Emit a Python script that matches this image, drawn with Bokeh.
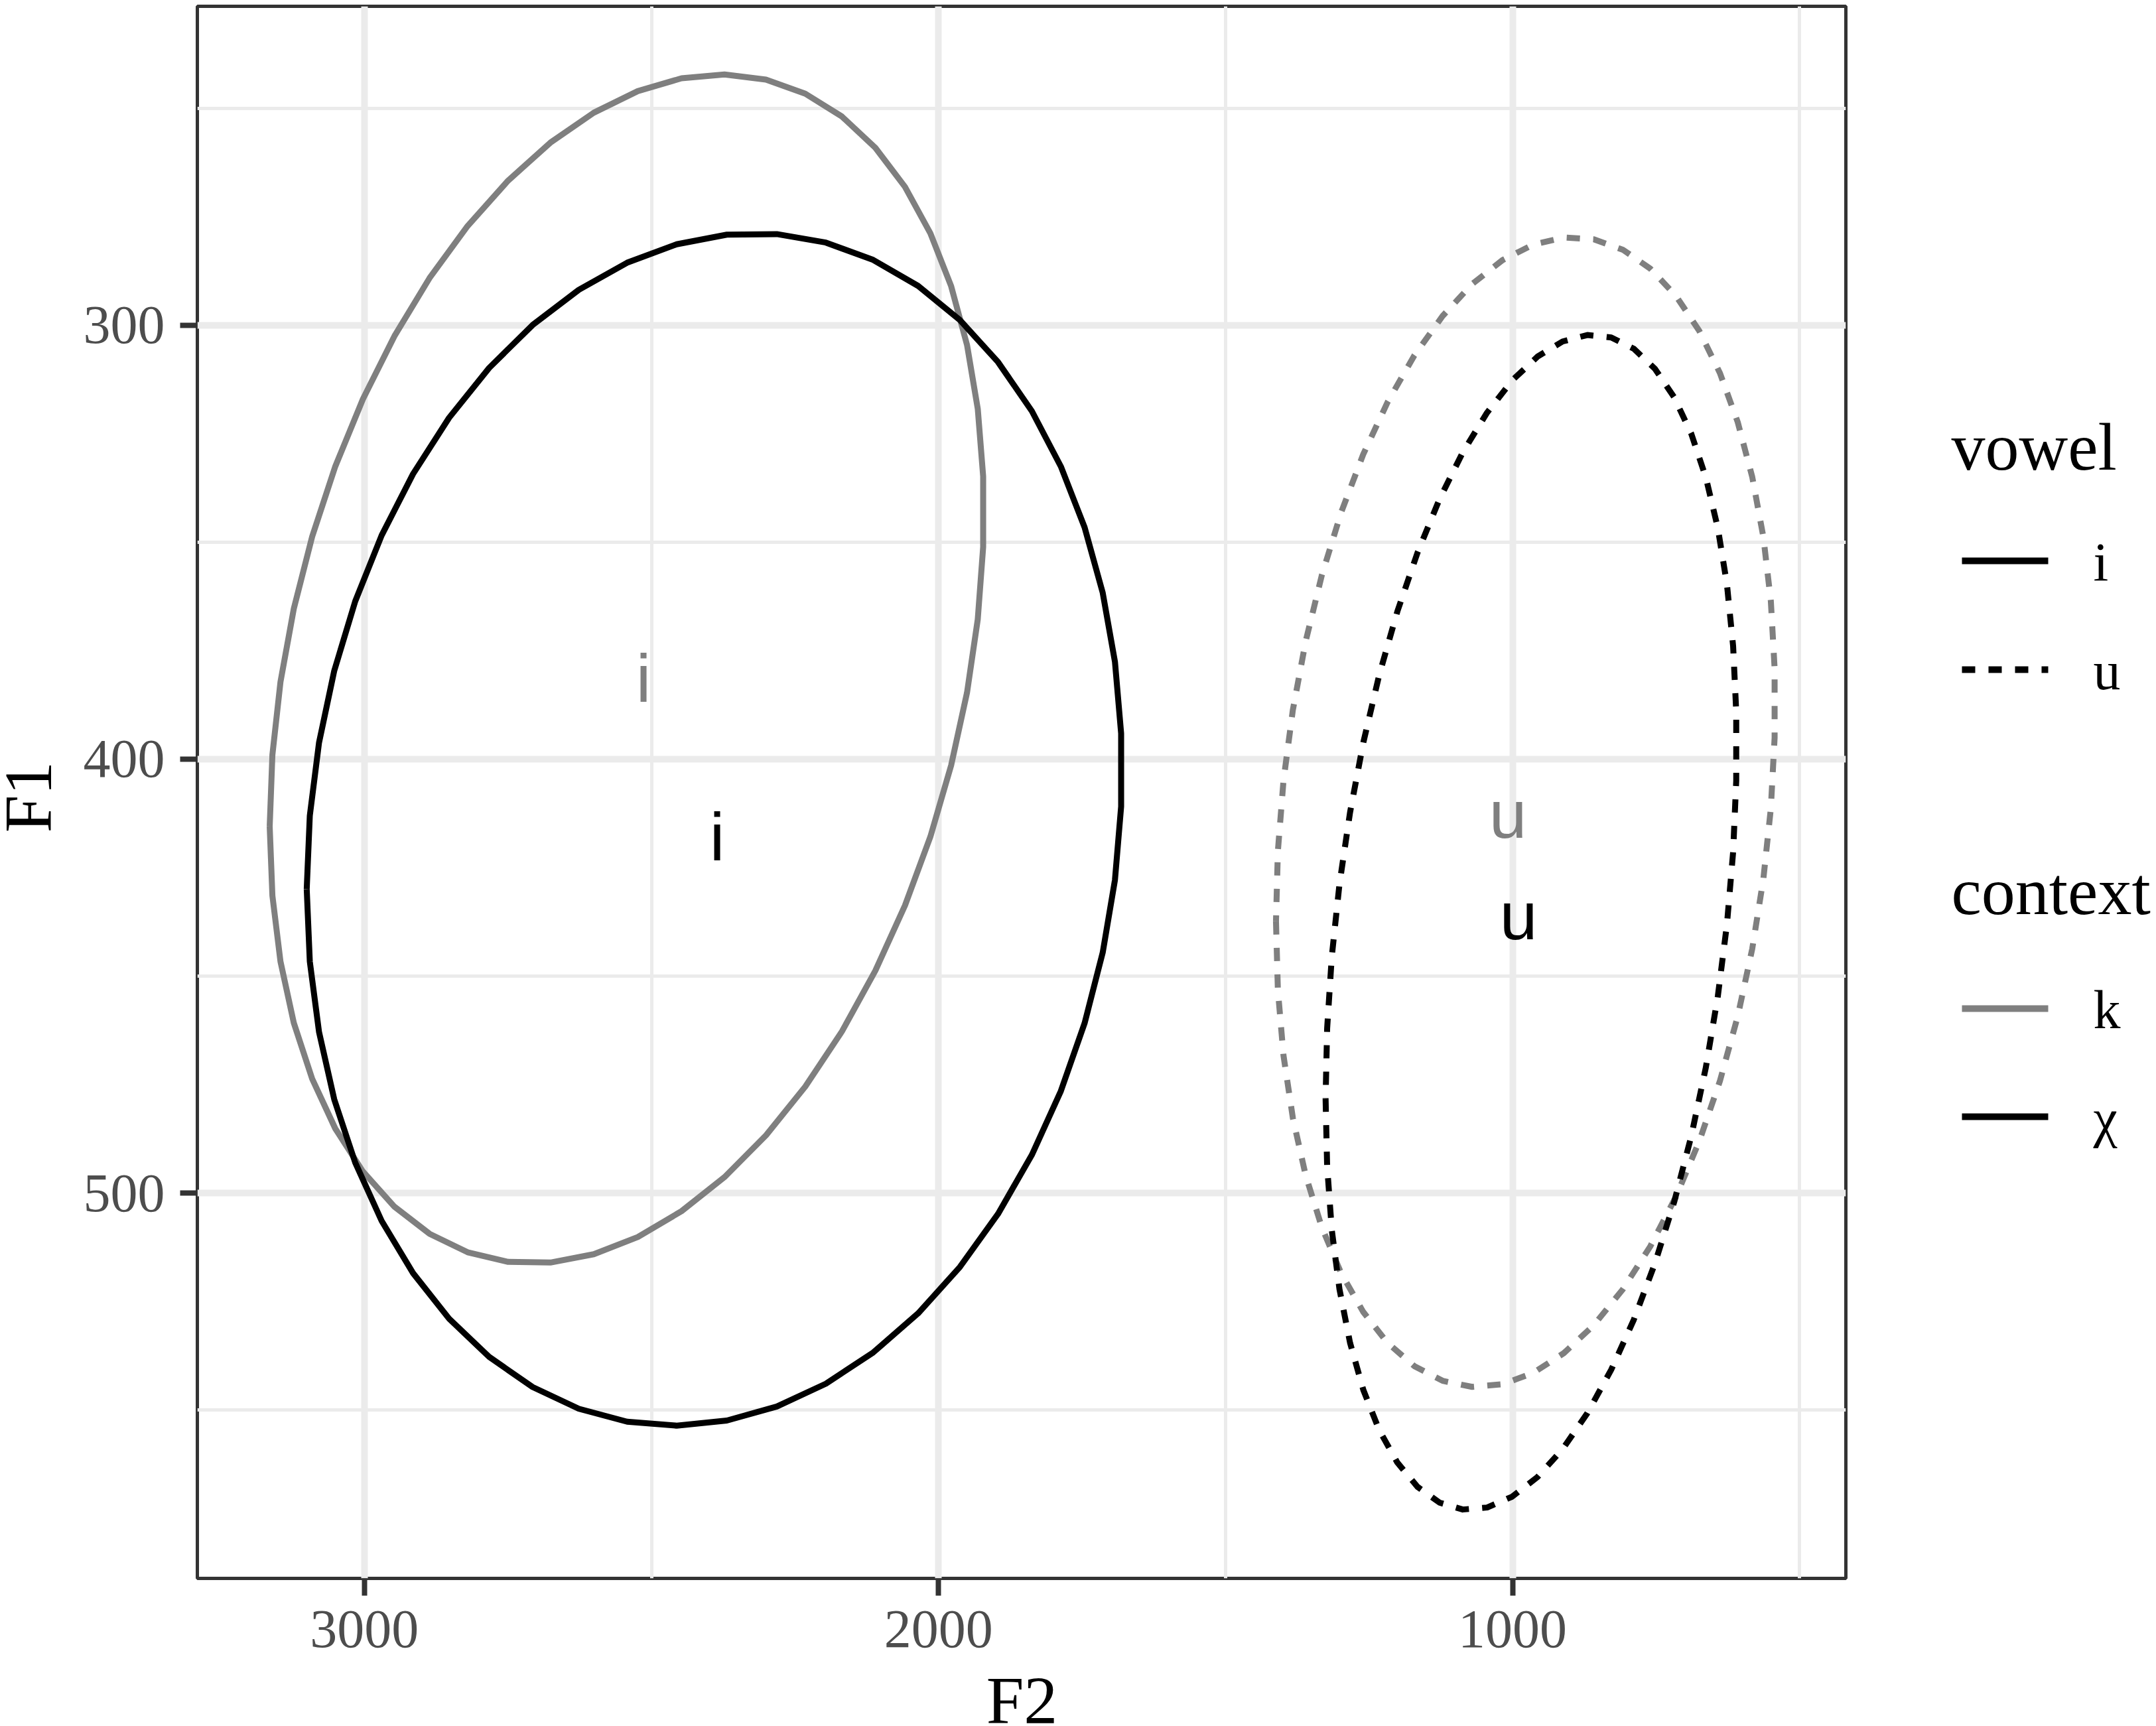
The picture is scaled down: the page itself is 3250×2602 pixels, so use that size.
import numpy as np
from bokeh.plotting import figure
from bokeh.models import Range1d, FixedTicker, ColumnDataSource
from bokeh.layouts import row, column
from bokeh.core.properties import value
from bokeh.embed import file_html
from bokeh.resources import INLINE

# ---- data ----
groups      = ["k-i", "χ-i", "k-u", "χ-u"]
vowel       = ["i", "i", "u", "u"]
context     = ["k", "χ", "k", "χ"]
# ellipse parameters (centre, half-extent in F2 and F1, correlation)
ell_f2      = [2543.0, 2390.5, 977.4, 967.7]
ell_f1      = [379.2, 416.2, 412.2, 437.6]
ell_rf2     = [622.0, 710.0, 434.7, 358.0]
ell_rf1     = [137.0, 137.4, 132.5, 135.4]
ell_rho     = [0.265, 0.10, 0.19, 0.30]
# mean positions of the vowel labels
lab_f2      = [2513.9, 2385.5, 1007.9, 989.5]
lab_f1      = [381.4, 417.9, 412.7, 436.2]

x_ticks = [1000, 2000, 3000]
x_minor = [500, 1500, 2500]
y_ticks = [300, 400, 500]
y_minor = [250, 350, 450, 550]

legend_vowel = ["i", "u"]
legend_context = ["k", "χ"]

ctx_color = {"k": "#7F7F7F", "χ": "#000000"}
vow_dash = {"i": "solid", "u": "20 20"}

SERIF = "Liberation Serif"
SANS = "Liberation Sans"

TOTAL_W, TOTAL_H = 3250, 2602
TOP_H = 2526
F1_W = 100
MAIN_RIGHT = 2786
LEG_W = TOTAL_W - MAIN_RIGHT
MAIN_W = MAIN_RIGHT - F1_W

FRAME_L, FRAME_R, FRAME_T, FRAME_B = 297, 2782, 9, 2379

# ---------------- main panel ----------------
p = figure(width=MAIN_W, height=TOP_H, output_backend="svg", toolbar_location=None,
           x_range=Range1d(3291, 419.4), y_range=Range1d(588.8, 226.5),
           min_border_left=FRAME_L - F1_W, min_border_right=MAIN_RIGHT - FRAME_R,
           min_border_top=FRAME_T, min_border_bottom=TOP_H - FRAME_B)
p.frame_align = False
p.background_fill_color = "white"
p.border_fill_color = "white"
p.outline_line_color = "#333333"
p.outline_line_width = 5

p.xaxis.ticker = FixedTicker(ticks=x_ticks, minor_ticks=x_minor)
p.yaxis.ticker = FixedTicker(ticks=y_ticks, minor_ticks=y_minor)
for ax in (p.xaxis, p.yaxis):
    ax.axis_line_color = None
    ax.minor_tick_line_color = None
    ax.major_tick_line_color = "#333333"
    ax.major_tick_line_width = 8
    ax.major_tick_out = 26
    ax.major_tick_in = 0
    ax.major_label_text_font = SERIF
    ax.major_label_text_font_size = "82px"
    ax.major_label_text_color = "#4D4D4D"
p.xaxis.major_label_standoff = 23
p.yaxis.major_label_standoff = 23

for g in (p.xgrid, p.ygrid):
    g.grid_line_color = "#EBEBEB"
    g.grid_line_width = 10
    g.minor_grid_line_color = "#EBEBEB"
    g.minor_grid_line_width = 5

t = np.linspace(0, 2 * np.pi, 52)
for i in range(len(groups)):
    xs = ell_f2[i] + ell_rf2[i] * np.cos(t)
    ys = ell_f1[i] + ell_rf1[i] * (ell_rho[i] * np.cos(t) + np.sqrt(1 - ell_rho[i] ** 2) * np.sin(t))
    p.line(xs, ys, line_color=ctx_color[context[i]], line_width=9,
           line_dash=vow_dash[vowel[i]], line_join="round")

src = ColumnDataSource(dict(x=lab_f2, y=lab_f1, txt=vowel,
                            col=[ctx_color[c] for c in context]))
p.text(x="x", y="y", text="txt", source=src, text_color="col",
       text_font=value(SANS), text_font_size="102px",
       text_align="center", text_baseline="middle")


def blank(w, h, xr, yr):
    f = figure(width=w, height=h, output_backend="svg", toolbar_location=None,
               x_range=xr, y_range=yr, x_axis_type=None, y_axis_type=None,
               min_border=0, min_border_left=0, min_border_right=0,
               min_border_top=0, min_border_bottom=0)
    f.frame_align = False
    f.outline_line_color = None
    f.background_fill_color = "white"
    f.border_fill_color = "white"
    f.grid.visible = False
    return f

# ---------------- y-axis title ----------------
f1 = blank(F1_W, TOP_H, Range1d(0, F1_W), Range1d(TOP_H, 0))
f1.text(x=[42], y=[1201], text=["F1"], angle=np.pi / 2,
        text_font=value(SERIF), text_font_size="102px", text_color="black",
        text_align="center", text_baseline="middle")

# ---------------- legend ----------------
lg = blank(LEG_W, TOP_H, Range1d(MAIN_RIGHT, TOTAL_W), Range1d(TOP_H, 0))
title_y = [673, 1343]
item_y = [[845, 1009], [1520, 1683]]
titles = ["vowel", "context"]
for k, (ttl, labels) in enumerate(zip(titles, [legend_vowel, legend_context])):
    lg.text(x=[2941], y=[title_y[k]], text=[ttl], text_font=value(SERIF),
            text_font_size="102px", text_color="black", text_baseline="middle")
    for j, lab in enumerate(labels):
        yy = item_y[k][j]
        if k == 0:
            col, dash = "black", vow_dash[lab]
        else:
            col, dash = ctx_color[lab], "solid"
        lg.line([2957, 3087], [yy, yy], line_color=col, line_width=10, line_dash=dash)
        lg.text(x=[3155], y=[yy + 2], text=[lab], text_font=value(SERIF),
                text_font_size="82px", text_color="black", text_baseline="middle")

# ---------------- x-axis title ----------------
f2 = blank(TOTAL_W, TOTAL_H - TOP_H, Range1d(0, TOTAL_W), Range1d(TOTAL_H, TOP_H))
f2.text(x=[1540], y=[2563], text=["F2"], text_font=value(SERIF),
        text_font_size="102px", text_color="black",
        text_align="center", text_baseline="middle")

layout = column(row(f1, p, lg), f2)
open("out.html", "w").write(file_html(layout, INLINE))
